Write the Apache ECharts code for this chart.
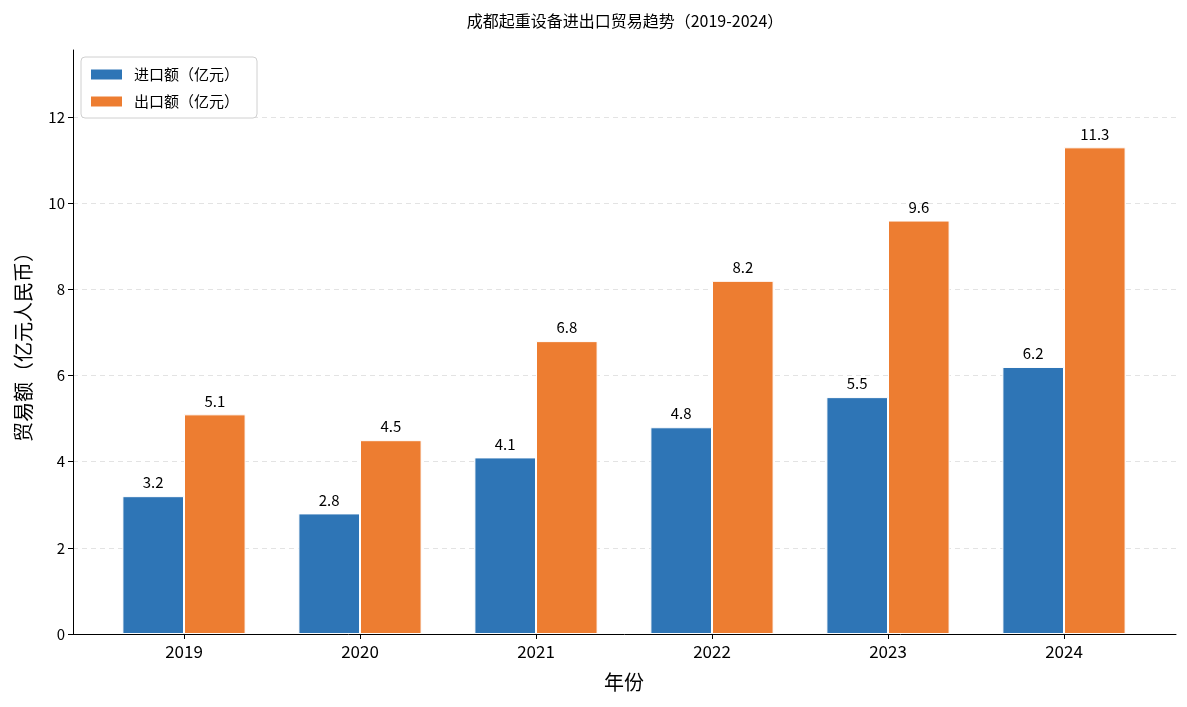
<!DOCTYPE html>
<html>
<head>
<meta charset="utf-8">
<script src="https://cdn.jsdelivr.net/npm/echarts@6/dist/echarts.min.js"></script>
<style>
  html, body { margin: 0; padding: 0; background: #fff; }
  #chart { width: 1187px; height: 707px; }
</style>
</head>
<body>
<div id="chart"></div>
<script>
// 数据
const years = ['2019', '2020', '2021', '2022', '2023', '2024'];
const importValues = [3.2, 2.8, 4.1, 4.8, 5.5, 6.2];
const exportValues = [5.1, 4.5, 6.8, 8.2, 9.6, 11.3];
const yTicks = [0, 2, 4, 6, 8, 10, 12];

const FONT = '"Noto Sans CJK SC", "Noto Sans", sans-serif';
const yMax = 13.56;

const chart = echarts.init(document.getElementById('chart'));

chart.setOption({
    animation: false,
    textStyle: { fontFamily: FONT, color: '#000' },
    title: {
        text: '成都起重设备进出口贸易趋势（2019-2024）',
        left: 620,
        top: 8,
        textAlign: 'center',
        textStyle: { fontSize: 16, fontWeight: 'normal', color: '#000', fontFamily: FONT }
    },
    legend: {
        orient: 'vertical',
        left: 81,
        top: 57,
        padding: [10, 18, 9, 8],
        icon: 'rect',
        itemWidth: 33,
        itemHeight: 12,
        itemGap: 12,
        borderColor: '#d0d0d0',
        borderWidth: 1,
        borderRadius: 4,
        backgroundColor: '#fff',
        textStyle: { fontSize: 15, color: '#000', fontFamily: FONT, padding: [0, 0, 0, 6] },
        data: ['进口额（亿元）', '出口额（亿元）']
    },
    grid: [
        // 坐标轴框架
        { left: 73, right: 11, top: 50, bottom: 73 },
        // 柱子所在区域
        { left: 96, right: 35, top: 50, bottom: 73 }
    ],
    xAxis: [
        {
            gridIndex: 0, type: 'value', min: 0, max: 1,
            axisLine: { show: true, lineStyle: { color: '#000', width: 1 } },
            axisTick: { show: false }, axisLabel: { show: false }, splitLine: { show: false }
        },
        {
            gridIndex: 1, type: 'category', data: years,
            name: '年份', nameLocation: 'middle', nameGap: 38,
            nameTextStyle: { fontSize: 20, color: '#000', fontFamily: FONT },
            axisLine: { show: false },
            axisTick: { show: true, alignWithLabel: true, length: 5, lineStyle: { color: '#000' } },
            axisLabel: { fontSize: 17, color: '#000', margin: 9, fontFamily: FONT },
            splitLine: { show: false }
        }
    ],
    yAxis: [
        {
            gridIndex: 0, type: 'value', min: 0, max: yMax,
            name: '贸易额（亿元人民币）', nameLocation: 'middle', nameGap: 40,
            nameTextStyle: { fontSize: 20, color: '#000', fontFamily: FONT },
            axisLine: { show: true, lineStyle: { color: '#000', width: 1 } },
            axisTick: { show: true, length: 5, customValues: yTicks, lineStyle: { color: '#000' } },
            axisLabel: { fontSize: 15, color: '#000', margin: 8, customValues: yTicks, fontFamily: FONT },
            splitLine: { show: false }
        },
        {
            gridIndex: 1, type: 'value', min: 0, max: yMax,
            axisLine: { show: false }, axisTick: { show: false }, axisLabel: { show: false },
            splitLine: { show: false }
        }
    ],
    series: [
        {
            // 网格虚线，放在柱子后面
            type: 'line', xAxisIndex: 0, yAxisIndex: 0, data: [],
            silent: true, z: 0,
            markLine: {
                z: 0,
                symbol: 'none', silent: true, label: { show: false },
                lineStyle: { type: [5, 4], color: '#e3e3e3', width: 1 },
                data: yTicks.slice(1).map(v => ({ yAxis: v }))
            }
        },
        {
            name: '进口额（亿元）', type: 'bar', xAxisIndex: 1, yAxisIndex: 1, z: 3,
            data: importValues, barWidth: '35%', barGap: '0%',
            itemStyle: { color: '#2e75b6', borderColor: '#fff', borderWidth: 1 },
            label: { show: true, position: 'top', distance: 6, fontSize: 15, color: '#000', fontFamily: FONT }
        },
        {
            name: '出口额（亿元）', type: 'bar', xAxisIndex: 1, yAxisIndex: 1, z: 3,
            data: exportValues, barWidth: '35%', barGap: '0%',
            itemStyle: { color: '#ed7d31', borderColor: '#fff', borderWidth: 1 },
            label: { show: true, position: 'top', distance: 6, fontSize: 15, color: '#000', fontFamily: FONT }
        }
    ]
});
</script>
</body>
</html>
